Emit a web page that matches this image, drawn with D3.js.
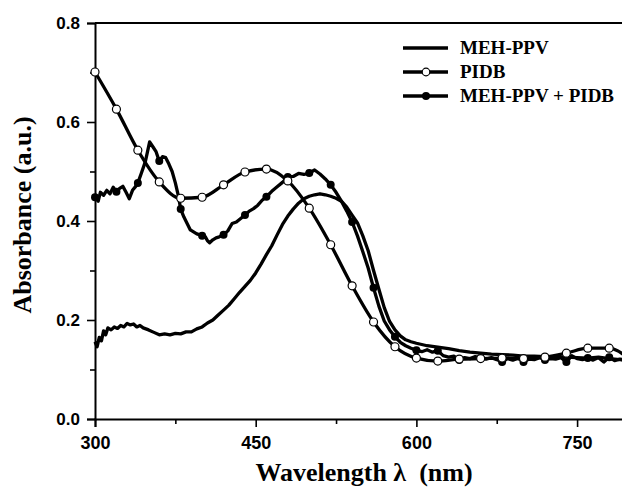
<!DOCTYPE html>
<html>
<head>
<meta charset="utf-8">
<script src="https://cdn.jsdelivr.net/npm/d3@7"></script>
<style>
  body { margin: 0; background: #fff; }
  svg { display: block; }
</style>
</head>
<body>
<div id="chart"></div>
<script>
// Données : [longueur d'onde (nm), absorbance]
var mehPPV = [
  [300, 0.156], [302, 0.146], [304, 0.165], [306, 0.158], [308, 0.178], [310, 0.170],
  [312, 0.184], [315, 0.180], [318, 0.186], [321, 0.183], [324, 0.189], [327, 0.186],
  [330, 0.193], [333, 0.190], [336, 0.192], [339, 0.186], [342, 0.189], [345, 0.184],
  [350, 0.180], [355, 0.175], [360, 0.170], [365, 0.172], [370, 0.170], [375, 0.173],
  [380, 0.172], [385, 0.176], [390, 0.176], [395, 0.182], [400, 0.186], [405, 0.194],
  [410, 0.200], [415, 0.210], [420, 0.220], [425, 0.230], [430, 0.243], [435, 0.256],
  [440, 0.268], [445, 0.280], [450, 0.295], [455, 0.313], [460, 0.332], [465, 0.350],
  [470, 0.372], [475, 0.393], [480, 0.410], [485, 0.424], [490, 0.436], [495, 0.445],
  [500, 0.450], [505, 0.453], [510, 0.455], [515, 0.453], [520, 0.450], [525, 0.446],
  [530, 0.440], [535, 0.428], [540, 0.412], [545, 0.396], [550, 0.370], [555, 0.340],
  [560, 0.300], [565, 0.262], [570, 0.225], [575, 0.197], [580, 0.180], [585, 0.168],
  [590, 0.160], [595, 0.156], [600, 0.153], [610, 0.148], [620, 0.145], [630, 0.142],
  [640, 0.138], [650, 0.135], [660, 0.133], [670, 0.131], [680, 0.130], [690, 0.129],
  [700, 0.127], [710, 0.127], [720, 0.126], [730, 0.125], [740, 0.125], [750, 0.124],
  [760, 0.123], [770, 0.125], [780, 0.122], [790, 0.120], [795, 0.119]
];

var pidb = [
  [300, 0.701], [320, 0.626], [340, 0.543], [360, 0.479], [380, 0.446], [400, 0.448],
  [420, 0.473], [440, 0.499], [460, 0.505], [480, 0.481], [500, 0.426], [520, 0.352],
  [540, 0.269], [560, 0.196], [580, 0.146], [600, 0.123], [620, 0.117], [640, 0.121],
  [660, 0.122], [680, 0.123], [700, 0.122], [720, 0.125], [740, 0.133], [760, 0.143],
  [780, 0.143], [795, 0.128]
];

var blend = [
  [300, 0.448], [303, 0.440], [305, 0.458], [308, 0.452], [311, 0.462], [314, 0.455],
  [317, 0.468], [320, 0.459], [323, 0.466], [326, 0.470], [329, 0.458], [332, 0.445],
  [335, 0.462], [338, 0.470], [340, 0.477], [343, 0.495], [347, 0.520], [351, 0.560],
  [354, 0.550], [357, 0.540], [360, 0.521], [363, 0.530], [366, 0.528], [369, 0.515],
  [372, 0.500], [375, 0.477], [378, 0.449], [380, 0.424], [383, 0.408], [386, 0.395],
  [389, 0.382], [392, 0.378], [395, 0.374], [398, 0.372], [400, 0.370], [403, 0.368],
  [405, 0.360], [407, 0.356], [410, 0.362], [413, 0.366], [416, 0.368], [420, 0.372],
  [424, 0.380], [428, 0.395], [432, 0.398], [436, 0.405], [440, 0.412], [444, 0.420],
  [448, 0.425], [452, 0.432], [456, 0.442], [460, 0.449], [465, 0.460], [470, 0.469],
  [475, 0.478], [480, 0.489], [485, 0.490], [490, 0.496], [495, 0.494], [500, 0.497],
  [505, 0.503], [510, 0.495], [515, 0.485], [520, 0.473], [525, 0.458], [530, 0.440],
  [535, 0.420], [540, 0.398], [545, 0.370], [550, 0.338], [555, 0.305], [560, 0.265],
  [565, 0.228], [570, 0.198], [575, 0.180], [580, 0.166], [585, 0.155], [590, 0.148],
  [595, 0.143], [600, 0.139], [605, 0.136], [610, 0.140], [615, 0.135], [620, 0.138],
  [625, 0.128], [630, 0.125], [635, 0.127], [640, 0.119], [645, 0.124], [650, 0.122],
  [655, 0.126], [660, 0.123], [665, 0.121], [670, 0.124], [675, 0.120], [680, 0.115],
  [685, 0.122], [690, 0.119], [695, 0.123], [700, 0.115], [705, 0.121], [710, 0.120],
  [715, 0.124], [720, 0.119], [725, 0.122], [730, 0.121], [735, 0.124], [740, 0.115],
  [745, 0.128], [750, 0.122], [755, 0.120], [760, 0.123], [765, 0.119], [770, 0.124],
  [775, 0.115], [780, 0.125], [785, 0.118], [790, 0.121], [795, 0.119]
];

var xTicks = [300, 450, 600, 750];
var xMinor = [375, 525, 675];
var yTicks = [0.0, 0.2, 0.4, 0.6, 0.8];
var yMinor = [0.1, 0.3, 0.5, 0.7];
var legendLabels = ["MEH-PPV", "PIDB", "MEH-PPV + PIDB"];

// Dimensions
var W = 622, H = 494;
var margin = {top: 23, left: 95};
var plotH = 396;

var svg = d3.select("#chart").append("svg")
    .attr("width", W)
    .attr("height", H);

svg.append("rect").attr("width", W).attr("height", H).attr("fill", "#fff");

var x = d3.scaleLinear().domain([300, 800]).range([margin.left, margin.left + 500 * 1.0713]);
var y = d3.scaleLinear().domain([0, 0.8]).range([margin.top + plotH, margin.top]);

var tickFont = "'Liberation Sans', Arial, sans-serif";
var titleFont = "'Liberation Serif', 'Times New Roman', serif";

// Axe X
var xAxis = svg.append("g")
    .attr("transform", "translate(0," + (margin.top + plotH) + ")")
    .call(d3.axisBottom(x).tickValues(xTicks).tickSize(8).tickPadding(9).tickFormat(d3.format("d")));
xAxis.select(".domain").attr("stroke-width", 2);
xAxis.selectAll(".tick line").attr("stroke-width", 1.6);
xAxis.selectAll("text").attr("font-family", tickFont).attr("font-weight", "bold")
    .attr("font-size", 18).attr("fill", "#000");

svg.append("g")
    .attr("transform", "translate(0," + (margin.top + plotH) + ")")
    .call(d3.axisBottom(x).tickValues(xMinor).tickSize(5).tickFormat(""))
    .call(g => g.select(".domain").remove())
    .selectAll("line").attr("stroke-width", 1.6);

// Axe Y
var yAxis = svg.append("g")
    .attr("transform", "translate(" + margin.left + ",0)")
    .call(d3.axisLeft(y).tickValues(yTicks).tickSize(8).tickPadding(7).tickFormat(d3.format(".1f")));
yAxis.select(".domain").attr("stroke-width", 2);
yAxis.selectAll(".tick line").attr("stroke-width", 1.6);
yAxis.selectAll("text").attr("font-family", tickFont).attr("font-weight", "bold")
    .attr("font-size", 17).attr("fill", "#000");

svg.append("g")
    .attr("transform", "translate(" + margin.left + ",0)")
    .call(d3.axisLeft(y).tickValues(yMinor).tickSize(5).tickFormat(""))
    .call(g => g.select(".domain").remove())
    .selectAll("line").attr("stroke-width", 1.6);

// ligne du haut du cadre
svg.append("line")
    .attr("x1", margin.left).attr("x2", x(800))
    .attr("y1", y(0.8)).attr("y2", y(0.8))
    .attr("stroke", "#000").attr("stroke-width", 2);

// Titres des axes
svg.append("text")
    .attr("x", 364).attr("y", 481)
    .attr("text-anchor", "middle")
    .attr("font-family", titleFont).attr("font-weight", "bold").attr("font-size", 26)
    .style("white-space", "pre")
    .text("Wavelength \u03bb  (nm)");

svg.append("text")
    .attr("transform", "translate(31,215) rotate(-90)")
    .attr("text-anchor", "middle")
    .attr("font-family", titleFont).attr("font-weight", "bold").attr("font-size", 26)
    .text("Absorbance (a.u.)");

// Courbes
var line = d3.line().x(d => x(d[0])).y(d => y(d[1]));
var smooth = d3.line().x(d => x(d[0])).y(d => y(d[1])).curve(d3.curveMonotoneX);

var plot = svg.append("g");

plot.append("path").datum(mehPPV).attr("d", line)
    .attr("fill", "none").attr("stroke", "#000").attr("stroke-width", 3.3).attr("stroke-linejoin", "round");
plot.append("path").datum(blend).attr("d", line)
    .attr("fill", "none").attr("stroke", "#000").attr("stroke-width", 3.3).attr("stroke-linejoin", "round");
plot.append("path").datum(pidb).attr("d", smooth)
    .attr("fill", "none").attr("stroke", "#000").attr("stroke-width", 3.3).attr("stroke-linejoin", "round");

// Marqueurs tous les 20 nm
plot.selectAll(".dotBlend")
    .data(blend.filter(d => d[0] % 20 === 0))
    .enter().append("circle")
    .attr("cx", d => x(d[0])).attr("cy", d => y(d[1])).attr("r", 4)
    .attr("fill", "#000");

plot.selectAll(".dotPidb")
    .data(pidb.filter(d => d[0] % 20 === 0))
    .enter().append("circle")
    .attr("cx", d => x(d[0])).attr("cy", d => y(d[1])).attr("r", 4)
    .attr("fill", "#fff").attr("stroke", "#000").attr("stroke-width", 1.2);

// Légende
var legend = svg.append("g");
legendLabels.forEach(function (label, i) {
    var ly = 48 + i * 24;
    legend.append("line")
        .attr("x1", 403).attr("x2", 448).attr("y1", ly).attr("y2", ly)
        .attr("stroke", "#000").attr("stroke-width", 3.3);
    if (i === 1) {
        legend.append("circle").attr("cx", 426).attr("cy", ly).attr("r", 3.8)
            .attr("fill", "#fff").attr("stroke", "#000").attr("stroke-width", 1.2);
    } else if (i === 2) {
        legend.append("circle").attr("cx", 426).attr("cy", ly).attr("r", 4).attr("fill", "#000");
    }
    legend.append("text")
        .attr("x", 460).attr("y", ly + 6)
        .attr("font-family", titleFont).attr("font-weight", "bold").attr("font-size", 19)
        .text(label);
});
</script>
</body>
</html>
